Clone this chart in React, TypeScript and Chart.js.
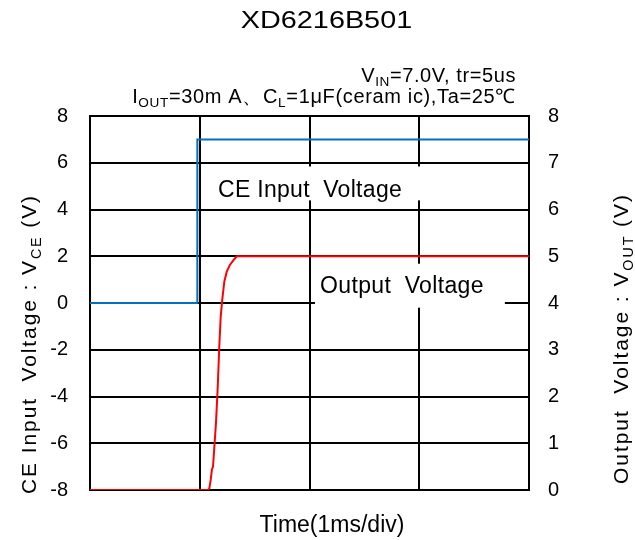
import React, { useEffect, useRef } from 'react';
import { Chart, registerables } from 'chart.js';
Chart.register(...registerables);

const FONT = '"Liberation Sans", Arial, sans-serif';

// Time axis (ms), 1ms/div
const timeTicks = [0, 1, 2, 3, 4];
// CE input voltage (left axis, V)
const ceTime = [0, 0.978, 0.978, 4];
const ceVolt = [0, 0, 7, 7];
// Output voltage (right axis, V)
const outTime = [0, 1.075, 1.087, 1.1, 1.111, 1.121, 1.148, 1.164, 1.178, 1.191, 1.205, 1.224, 1.246, 1.276, 1.306, 1.337, 4];
const outVolt = [0, 0, 0.03, 0.22, 0.44, 0.5, 1.44, 2.21, 3.07, 3.71, 4.07, 4.46, 4.67, 4.82, 4.91, 5.0, 5.0];
const leftRange = [-8, 8];
const rightRange = [0, 8];

type Seg = { t: string; sub?: boolean };

function drawRich(ctx: CanvasRenderingContext2D, segs: Seg[], x: number, y: number, align: 'left' | 'center' | 'right', size: number, spacing: number, sx = 1) {
  const subSize = size * 0.68;
  const widths = segs.map((s) => {
    ctx.font = `${s.sub ? subSize : size}px ${FONT}`;
    (ctx as any).letterSpacing = `${spacing}px`;
    return ctx.measureText(s.t).width;
  });
  const total = widths.reduce((a, b) => a + b, 0);
  ctx.save();
  ctx.translate(x, y);
  ctx.scale(sx, 1);
  let cx = align === 'left' ? 0 : align === 'center' ? -total / 2 : -total;
  ctx.textAlign = 'left';
  ctx.textBaseline = 'alphabetic';
  ctx.fillStyle = '#000';
  segs.forEach((s, i) => {
    ctx.font = `${s.sub ? subSize : size}px ${FONT}`;
    (ctx as any).letterSpacing = `${spacing}px`;
    ctx.fillText(s.t, cx, s.sub ? size * 0.22 : 0);
    cx += widths[i];
  });
  (ctx as any).letterSpacing = '0px';
  ctx.restore();
}

const annotationPlugin = {
  id: 'annot',
  beforeDatasetsDraw(chart: any) {
    const ctx = chart.ctx as CanvasRenderingContext2D;
    const xs = chart.scales.x;
    const yl = chart.scales.yL;
    const box = (x0: number, x1: number, y0: number, y1: number) => {
      const a = xs.getPixelForValue(x0), b = xs.getPixelForValue(x1);
      const c = yl.getPixelForValue(y0), d = yl.getPixelForValue(y1);
      ctx.fillStyle = '#fff';
      ctx.fillRect(Math.min(a, b), Math.min(c, d), Math.abs(b - a), Math.abs(d - c));
    };
    ctx.save();
    box(1.05, 3.05, 5.84, 4.39);
    box(2.05, 3.78, 1.68, -0.2);
    drawRich(ctx, [{ t: 'CE Input  Voltage' }], xs.getPixelForValue(1.166), yl.getPixelForValue(4.556), 'left', 23, 0.3);
    drawRich(ctx, [{ t: 'Output  Voltage' }], xs.getPixelForValue(2.096), yl.getPixelForValue(0.436), 'left', 23, 0.35);
    ctx.restore();
  },
  afterDraw(chart: any) {
    const ctx = chart.ctx as CanvasRenderingContext2D;
    ctx.save();
    drawRich(ctx, [{ t: 'XD6216B501' }], 326.5, 28.3, 'center', 24, 0, 1.2);
    drawRich(ctx, [{ t: 'V' }, { t: 'IN', sub: true }, { t: '=7.0V, tr=5us' }], 516, 81.5, 'right', 20, 0.6);
    drawRich(ctx, [{ t: 'I' }, { t: 'OUT', sub: true }, { t: '=30m A、C' }, { t: 'L', sub: true }, { t: '=1μF(ceram ic),Ta=25℃' }], 516, 103, 'right', 20, 0.65);
    drawRich(ctx, [{ t: 'Time(1ms/div)' }], 332, 532, 'center', 23, 0);
    ctx.translate(36, 344);
    ctx.rotate(-Math.PI / 2);
    drawRich(ctx, [{ t: 'CE Input  Voltage : V' }, { t: 'CE', sub: true }, { t: ' (V)' }], 0, 0, 'center', 21, 1.9);
    ctx.restore();
    ctx.save();
    ctx.translate(628, 338.5);
    ctx.rotate(-Math.PI / 2);
    drawRich(ctx, [{ t: 'Output  Voltage : V' }, { t: 'OUT', sub: true }, { t: ' (V)' }], 0, 0, 'center', 21, 1.95);
    ctx.restore();
  },
};

export default function App() {
  const ref = useRef<HTMLCanvasElement>(null);
  useEffect(() => {
    document.body.style.margin = '0';
    const chart = new Chart(ref.current!, {
      type: 'line',
      data: {
        datasets: [
          {
            data: ceTime.map((t, i) => ({ x: t, y: ceVolt[i] })),
            borderColor: '#0070C0',
            borderWidth: 2,
            yAxisID: 'yL',
            pointRadius: 0,
          },
          {
            data: outTime.map((t, i) => ({ x: t, y: outVolt[i] })),
            borderColor: '#FF0000',
            borderWidth: 2,
            yAxisID: 'yR',
            pointRadius: 0,
          },
        ],
      },
      options: {
        responsive: false,
        devicePixelRatio: 1,
        animation: false,
        layout: { padding: { top: 116, left: 0, right: 0, bottom: 0 } },
        plugins: { legend: { display: false }, tooltip: { enabled: false } },
        elements: { line: { tension: 0 } },
        scales: {
          x: {
            type: 'linear',
            min: timeTicks[0],
            max: timeTicks[timeTicks.length - 1],
            afterBuildTicks: (s: any) => { s.ticks = timeTicks.map((v) => ({ value: v })); },
            ticks: { display: false },
            grid: { color: '#000', lineWidth: 2, drawTicks: false },
            border: { color: '#000', width: 2 },
            afterFit: (s: any) => { s.height = 50; },
          },
          yL: {
            type: 'linear',
            position: 'left',
            min: leftRange[0],
            max: leftRange[1],
            ticks: { stepSize: 2, color: '#000', font: { size: 20, family: FONT }, padding: 22 },
            grid: { color: '#000', lineWidth: 2, drawTicks: false },
            border: { color: '#000', width: 2 },
            afterFit: (s: any) => { s.width = 90; },
          },
          yR: {
            type: 'linear',
            position: 'right',
            min: rightRange[0],
            max: rightRange[1],
            ticks: { stepSize: 1, color: '#000', font: { size: 20, family: FONT }, padding: 19 },
            grid: { display: false, drawTicks: false },
            border: { color: '#000', width: 2 },
            afterFit: (s: any) => { s.width = 106; },
          },
        },
      } as any,
      plugins: [annotationPlugin],
    });
    return () => chart.destroy();
  }, []);
  return <canvas ref={ref} width={635} height={540} style={{ display: 'block', width: 635, height: 540 }} />;
}
